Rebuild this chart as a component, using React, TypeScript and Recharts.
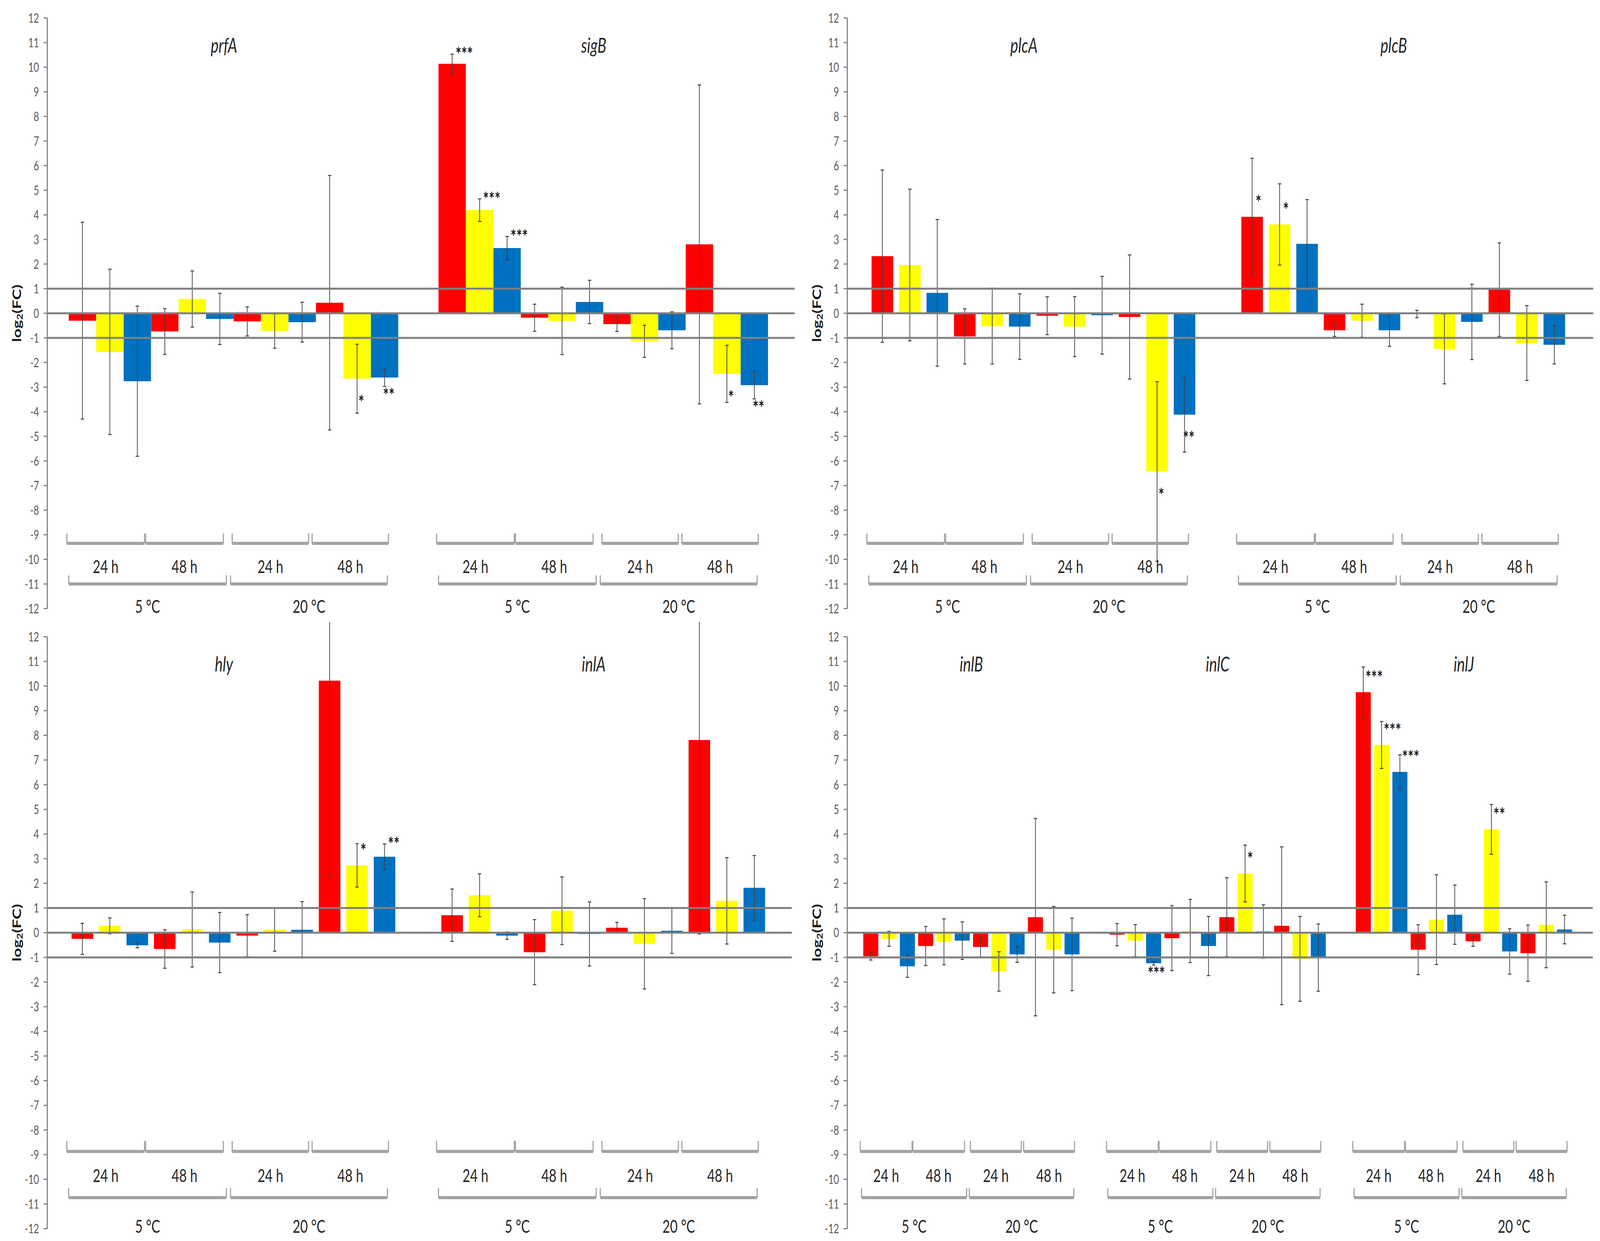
import React from 'react';
import { BarChart, Bar, XAxis, YAxis, ReferenceLine, ReferenceDot, ErrorBar, Cell } from 'recharts';

// ---------- categories / labels ----------
const SERIES_COLORS = ['#FF0000', '#FFFF00', '#0070C0'];
const TIME_LABELS = ['24 h', '48 h', '24 h', '48 h'];
const TEMP_LABELS = ['5 °C', '20 °C'];
const Y_TICKS = [-12, -11, -10, -9, -8, -7, -6, -5, -4, -3, -2, -1, 0, 1, 2, 3, 4, 5, 6, 7, 8, 9, 10, 11, 12];
const THRESHOLDS = [1, -1];

// ---------- values (order: 5°C 24h, 5°C 48h, 20°C 24h, 20°C 48h; each red, yellow, blue) ----------
const prfAValues = [-0.3, -1.57, -2.76, -0.74, 0.58, -0.23, -0.33, -0.72, -0.36, 0.43, -2.66, -2.61];
const prfAErrors = [4.0, 3.36, 3.05, 0.93, 1.14, 1.04, 0.59, 0.7, 0.81, 5.17, 1.4, 0.36];
const prfAStars = ['', '', '', '', '', '', '', '', '', '', '*', '**'];

const sigBValues = [10.14, 4.19, 2.65, -0.18, -0.31, 0.46, -0.44, -1.14, -0.69, 2.8, -2.46, -2.92];
const sigBErrors = [0.39, 0.46, 0.47, 0.55, 1.37, 0.88, 0.3, 0.65, 0.75, 6.48, 1.16, 0.56];
const sigBStars = ['***', '***', '***', '', '', '', '', '', '', '', '*', '**'];

const plcAValues = [2.32, 1.96, 0.83, -0.94, -0.52, -0.54, -0.1, -0.54, -0.08, -0.15, -6.43, -4.12];
const plcAErrors = [3.5, 3.08, 2.98, 1.12, 1.54, 1.33, 0.77, 1.22, 1.58, 2.52, 3.65, 1.52];
const plcAStars = ['', '', '', '', '', '', '', '', '', '', '*', '**'];

const plcBValues = [3.92, 3.61, 2.82, -0.69, -0.3, -0.69, -0.03, -1.45, -0.35, 0.96, -1.21, -1.28];
const plcBErrors = [2.38, 1.65, 1.8, 0.25, 0.67, 0.65, 0.15, 1.42, 1.53, 1.9, 1.52, 0.78];
const plcBStars = ['*', '*', '', '', '', '', '', '', '', '', '', ''];

const hlyValues = [-0.25, 0.28, -0.51, -0.66, 0.13, -0.4, -0.12, 0.12, 0.12, 10.22, 2.73, 3.08];
const hlyErrors = [0.63, 0.32, 0.1, 0.78, 1.52, 1.22, 0.85, 0.87, 1.14, 7.9, 0.88, 0.52];
const hlyStars = ['', '', '', '', '', '', '', '', '', '', '*', '**'];

const inlAValues = [0.71, 1.52, -0.12, -0.79, 0.89, -0.05, 0.2, -0.45, 0.08, 7.81, 1.29, 1.82];
const inlAErrors = [1.06, 0.87, 0.15, 1.32, 1.37, 1.3, 0.22, 1.83, 0.92, 7.86, 1.75, 1.31];
const inlAStars = ['', '', '', '', '', '', '', '', '', '', '', ''];

const inlBValues = [-0.96, -0.25, -1.36, -0.54, -0.37, -0.32, -0.58, -1.57, -0.88, 0.63, -0.69, -0.88];
const inlBErrors = [0.15, 0.3, 0.45, 0.79, 0.93, 0.76, 0.42, 0.8, 0.32, 4.0, 1.75, 1.47];
const inlBStars = ['', '', '', '', '', '', '', '', '', '', '', ''];

const inlCValues = [-0.08, -0.32, -1.24, -0.22, 0.07, -0.54, 0.63, 2.4, 0.05, 0.28, -1.06, -1.01];
const inlCErrors = [0.45, 0.65, 0.07, 1.32, 1.28, 1.2, 1.6, 1.15, 1.08, 3.2, 1.72, 1.36];
const inlCStars = ['', '', '***', '', '', '', '', '*', '', '', '', ''];

const inlJValues = [9.75, 7.61, 6.52, -0.69, 0.53, 0.73, -0.35, 4.19, -0.76, -0.83, 0.32, 0.13];
const inlJErrors = [1.02, 0.95, 0.69, 1.01, 1.82, 1.2, 0.2, 1.01, 0.92, 1.14, 1.74, 0.58];
const inlJStars = ['***', '***', '***', '', '', '', '', '**', '', '', '', ''];

// ---------- layout ----------
type Gene = { name: string; values: number[]; errors: number[]; stars: string[] };
const gene = (name: string, values: number[], errors: number[], stars: string[]): Gene => ({ name, values, errors, stars });

const FONT = 'Lato, "Open Sans", "DejaVu Sans", sans-serif';
const LINE_GRAY = '#7f7f7f';
const BRACKET_GRAY = '#a3a3a3';
const TEXT_DARK = '#262626';

// design frame = the reference picture size
const DESIGN_W = 5632;
const DESIGN_H = 3177;

const GENE_START = 1.28;
const GENE_STEP = 13.46;
const TIME_BRACKETS = [[-0.07, 2.76], [2.8, 5.63], [5.95, 8.73], [8.86, 11.64]];
const TEMP_BRACKETS = [[0, 5.74], [5.89, 11.6]];

const MARGIN = { top: 38, right: 10, bottom: 22, left: 58.5 };
const Y_AXIS_WIDTH = 100;

type Levels = { timeTop: number; timeBottom: number; timeLabel: number; tempTop: number; tempBottom: number; tempLabel: number };
const TOP_LEVELS: Levels = { timeTop: -8.95, timeBottom: -9.35, timeLabel: -10.28, tempTop: -10.65, tempBottom: -11.0, tempLabel: -11.9 };
const BOTTOM_LEVELS: Levels = { timeTop: -8.44, timeBottom: -8.87, timeLabel: -9.82, tempTop: -10.35, tempBottom: -10.74, tempLabel: -11.88 };

const textShape = (label: string, fontSize: number, extra: Record<string, any> = {}) => (props: any) => (
  <text
    x={props.cx}
    y={props.cy}
    textAnchor="middle"
    dominantBaseline="central"
    fontSize={fontSize}
    fontFamily={FONT}
    fill={TEXT_DARK}
    {...extra}
  >
    {label}
  </text>
);

const starShape = (label: string, anchor: string) => (props: any) => (
  <text x={props.cx} y={props.cy + 24} textAnchor={anchor} fontSize={48} fontWeight={700} fontFamily={FONT} fill="#1a1a1a">
    {label}
  </text>
);

const renderYLabel = (props: any) => {
  const vb = props.viewBox || { x: MARGIN.left, y: MARGIN.top, width: Y_AXIS_WIDTH, height: 1512 };
  const cx = vb.x + vb.width - 108;
  const cy = vb.y + vb.height / 2;
  return (
    <text
      x={cx}
      y={cy}
      transform={`rotate(-90 ${cx} ${cy})`}
      textAnchor="middle"
      dominantBaseline="central"
      fontSize={42}
      fontWeight={700}
      fontFamily={FONT}
      fill="#1a1a1a"
    >
      log
      <tspan dy={10} fontSize={28}>2</tspan>
      <tspan dy={-10}>(FC)</tspan>
    </text>
  );
};

const bracket = (key: string, x1: number, x2: number, yTop: number, yBottom: number) => [
  <ReferenceLine key={key + '-l'} segment={[{ x: x1, y: yTop }, { x: x1, y: yBottom }]} stroke={BRACKET_GRAY} strokeWidth={4} />,
  <ReferenceLine key={key + '-h'} segment={[{ x: x1, y: yBottom }, { x: x2, y: yBottom }]} stroke={BRACKET_GRAY} strokeWidth={8} />,
  <ReferenceLine key={key + '-r'} segment={[{ x: x2, y: yTop }, { x: x2, y: yBottom }]} stroke={BRACKET_GRAY} strokeWidth={4} />,
];

type PanelProps = {
  genes: Gene[];
  left: number;
  top: number;
  unitPx: number;
  domainMax: number;
  barFrac: number;
  plotHeight: number;
  levels: Levels;
  titleShift: number;
};

function Panel(p: PanelProps) {
  const plotWidth = p.domainMax * p.unitPx;
  const width = MARGIN.left + Y_AXIS_WIDTH + plotWidth + MARGIN.right;
  const height = MARGIN.top + p.plotHeight + MARGIN.bottom;

  const data = p.genes.flatMap((g, gi) =>
    g.values.map((v, i) => ({
      x: GENE_START + GENE_STEP * gi + i,
      value: v,
      err: g.errors[i],
      fill: SERIES_COLORS[i % 3],
      star: g.stars[i],
    }))
  );

  const decorations: any[] = [];
  p.genes.forEach((g, gi) => {
    const edge = GENE_START - 0.5 + GENE_STEP * gi;
    const center = GENE_START + GENE_STEP * gi + 5.5 + p.titleShift;
    decorations.push(
      <ReferenceDot key={g.name + '-title'} x={center} y={10.9} r={1} shape={textShape(g.name, 52, { fontStyle: 'italic' })} />
    );
    TIME_BRACKETS.forEach(([a, b], k) => {
      decorations.push(...bracket(`${g.name}-t${k}`, edge + a, edge + b, p.levels.timeTop, p.levels.timeBottom));
      decorations.push(
        <ReferenceDot key={`${g.name}-tl${k}`} x={edge + (a + b) / 2} y={p.levels.timeLabel} r={1} shape={textShape(TIME_LABELS[k], 46)} />
      );
    });
    TEMP_BRACKETS.forEach(([a, b], k) => {
      decorations.push(...bracket(`${g.name}-c${k}`, edge + a, edge + b, p.levels.tempTop, p.levels.tempBottom));
      decorations.push(
        <ReferenceDot key={`${g.name}-cl${k}`} x={edge + (a + b) / 2} y={p.levels.tempLabel} r={1} shape={textShape(TEMP_LABELS[k], 46)} />
      );
    });
  });

  const stars = data
    .filter((d) => d.star)
    .map((d, i) => {
      const positive = d.value >= 0;
      const y = positive ? d.value + Math.min(d.err, 0.6) + 0.1 : d.value - Math.min(d.err, 0.6) - 0.25;
      return (
        <ReferenceDot
          key={'star' + i}
          x={d.x + (positive ? 0.12 : 0.15)}
          y={y}
          r={1}
          shape={starShape(d.star, positive ? 'start' : 'middle')}
        />
      );
    });

  return (
    <div style={{ position: 'absolute', left: p.left, top: p.top }}>
      <BarChart width={width} height={height} data={data} margin={MARGIN}>
        <XAxis type="number" dataKey="x" domain={[0, p.domainMax]} hide allowDataOverflow />
        <YAxis
          type="number"
          domain={[-12, 12]}
          ticks={Y_TICKS}
          interval={0}
          allowDataOverflow
          width={Y_AXIS_WIDTH}
          axisLine={{ stroke: LINE_GRAY, strokeWidth: 4 }}
          tickLine={{ stroke: LINE_GRAY, strokeWidth: 3 }}
          tickSize={13}
          tickMargin={16}
          tick={{ fill: '#595959', fontSize: 33, fontFamily: FONT }}
          label={renderYLabel}
        />
        <Bar dataKey="value" barSize={p.unitPx * p.barFrac} isAnimationActive={false}>
          {data.map((d, i) => (
            <Cell key={i} fill={d.fill} />
          ))}
          <ErrorBar dataKey="err" width={6} stroke="#404040" strokeWidth={2.5} />
        </Bar>
        <ReferenceLine y={0} stroke={LINE_GRAY} strokeWidth={5} />
        {THRESHOLDS.map((t) => (
          <ReferenceLine key={'thr' + t} y={t} stroke={LINE_GRAY} strokeWidth={5} />
        ))}
        {decorations}
        {stars}
      </BarChart>
    </div>
  );
}

const topLeftGenes = [gene('prfA', prfAValues, prfAErrors, prfAStars), gene('sigB', sigBValues, sigBErrors, sigBStars)];
const topRightGenes = [gene('plcA', plcAValues, plcAErrors, plcAStars), gene('plcB', plcBValues, plcBErrors, plcBStars)];
const bottomLeftGenes = [gene('hly', hlyValues, hlyErrors, hlyStars), gene('inlA', inlAValues, inlAErrors, inlAStars)];
const bottomRightGenes = [
  gene('inlB', inlBValues, inlBErrors, inlBStars),
  gene('inlC', inlCValues, inlCErrors, inlCStars),
  gene('inlJ', inlJValues, inlJErrors, inlJStars),
];

export default function App() {
  // The browser window may be narrower than the reference frame (it caps at 4096 px),
  // so the whole 5632x3177 design frame is mapped onto the window that is photographed.
  const w: any = typeof window !== 'undefined' ? window : {};
  const vw = w.innerWidth || DESIGN_W;
  const vh = w.innerHeight || DESIGN_H;
  const sx = Math.min(vw, DESIGN_W) / DESIGN_W;
  const sy = Math.min(vh, DESIGN_H) / DESIGN_H;
  return (
    <div style={{ margin: -8, width: DESIGN_W * sx, height: DESIGN_H * sy, overflow: 'hidden', background: '#ffffff' }}>
      <div
        style={{
          position: 'relative',
          width: DESIGN_W,
          height: DESIGN_H,
          transform: `scale(${sx}, ${sy})`,
          transformOrigin: '0 0',
          background: '#ffffff',
          fontFamily: FONT,
        }}
      >
        <Panel genes={topLeftGenes} left={8} top={8} unitPx={96.7} domainMax={27.2} barFrac={0.995} plotHeight={1512} levels={TOP_LEVELS} titleShift={-0.35} />
        <Panel genes={topRightGenes} left={2823.5} top={8} unitPx={96.7} domainMax={27.15} barFrac={0.785} plotHeight={1512} levels={TOP_LEVELS} titleShift={-0.35} />
        <Panel genes={bottomLeftGenes} left={8} top={1591.5} unitPx={96.7} domainMax={27.1} barFrac={0.785} plotHeight={1515.5} levels={BOTTOM_LEVELS} titleShift={-0.35} />
        <Panel genes={bottomRightGenes} left={2823.8} top={1591.5} unitPx={64.4} domainMax={40.75} barFrac={0.82} plotHeight={1515.5} levels={BOTTOM_LEVELS} titleShift={0} />
      </div>
    </div>
  );
}
